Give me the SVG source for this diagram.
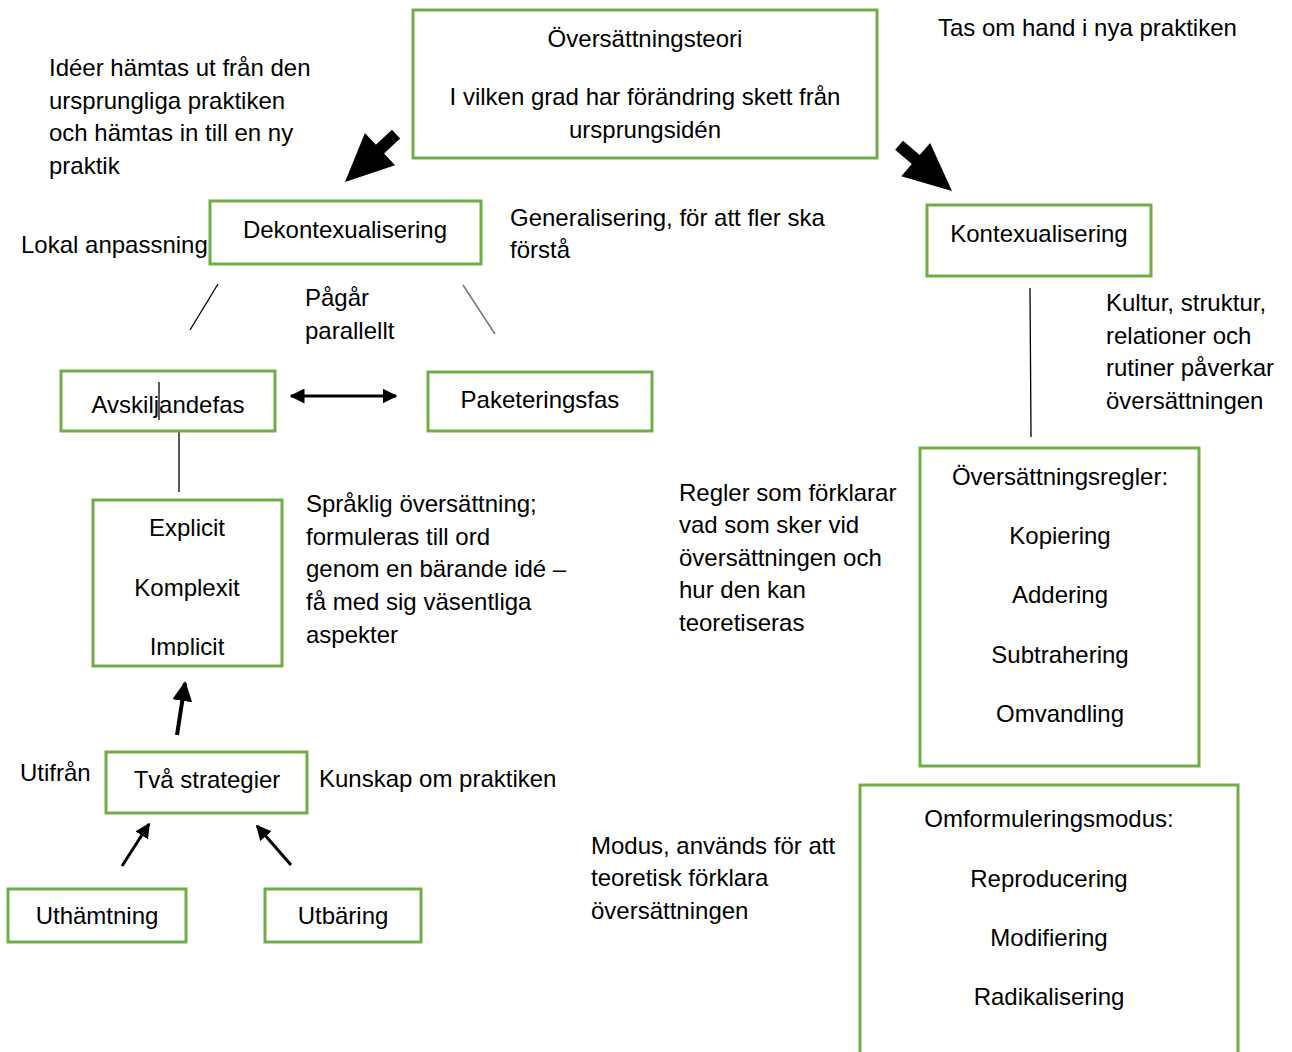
<svg xmlns="http://www.w3.org/2000/svg" width="1292" height="1052" viewBox="0 0 1292 1052">
<style>
text{font-family:"Liberation Sans",Arial,sans-serif;font-size:24px;fill:#000}
.c{text-anchor:middle}
.box{fill:#fff;stroke:#70AD47;stroke-width:3}
.ln{stroke:#000;stroke-width:1.3;fill:none}
</style>
<defs>
<marker id="ah" viewBox="0 0 10 10" refX="9" refY="5" markerWidth="5" markerHeight="5" orient="auto-start-reverse" markerUnits="strokeWidth">
<path d="M0,0 L10,5 L0,10 z" fill="#000"/>
</marker>
<clipPath id="clipImp"><rect x="90" y="495" width="200" height="161"/></clipPath>
</defs>
<rect width="1292" height="1052" fill="#fff"/>

<g id="connectors">
<line class="ln" x1="218" y1="284" x2="190" y2="330"/>
<line x1="463" y1="285" x2="495" y2="334" stroke="#777" stroke-width="1.5"/>
<line class="ln" x1="179" y1="431" x2="179" y2="492"/>
<line class="ln" x1="1030" y1="288" x2="1031" y2="437"/>
<line x1="291" y1="396" x2="396" y2="396" stroke="#000" stroke-width="3" marker-start="url(#ah)" marker-end="url(#ah)"/>
<line x1="177" y1="735" x2="185" y2="683" stroke="#000" stroke-width="4" marker-end="url(#ah)"/>
<line x1="122" y1="866" x2="149" y2="824" stroke="#000" stroke-width="3" marker-end="url(#ah)"/>
<line x1="291" y1="865" x2="257" y2="826" stroke="#000" stroke-width="3" marker-end="url(#ah)"/>
<polygon transform="translate(345,182) rotate(136.8)" points="0,0 -48,-22 -48,-6 -70,-6 -70,6 -48,6 -48,22" fill="#000"/>
<polygon transform="translate(952,191) rotate(40.9)" points="0,0 -48,-22 -48,-6 -70,-6 -70,6 -48,6 -48,22" fill="#000"/>
</g>

<g id="n-teori">
<rect class="box" x="413" y="10" width="464" height="148"/>
<text class="c" x="645" y="47">Översättningsteori</text>
<text class="c" x="645" y="105">I vilken grad har förändring skett från</text>
<text class="c" x="645" y="138">ursprungsidén</text>
</g>
<g id="n-dekon">
<rect class="box" x="210" y="201" width="271" height="63"/>
<text class="c" x="345" y="238">Dekontexualisering</text>
</g>
<g id="n-kon">
<rect class="box" x="927" y="205" width="224" height="71"/>
<text class="c" x="1039" y="242">Kontexualisering</text>
</g>
<g id="n-avsk">
<rect class="box" x="61" y="371" width="214" height="60"/>
<text class="c" x="168" y="413">Avskiljandefas</text>
<line class="ln" x1="159" y1="382" x2="159" y2="420"/>
</g>
<g id="n-pak">
<rect class="box" x="428" y="372" width="224" height="59"/>
<text class="c" x="540" y="408">Paketeringsfas</text>
</g>
<g id="n-komplex">
<rect class="box" x="93" y="500" width="189" height="166"/>
<text class="c" x="187" y="536">Explicit</text>
<text class="c" x="187" y="596">Komplexit</text>
<text class="c" x="187" y="655" clip-path="url(#clipImp)">Implicit</text>
</g>
<g id="n-tva">
<rect class="box" x="106" y="752" width="201" height="61"/>
<text class="c" x="207" y="788">Två strategier</text>
</g>
<g id="n-uth">
<rect class="box" x="8" y="889" width="178" height="53"/>
<text class="c" x="97" y="924">Uthämtning</text>
</g>
<g id="n-utb">
<rect class="box" x="265" y="889" width="156" height="53"/>
<text class="c" x="343" y="924">Utbäring</text>
</g>
<g id="n-regler">
<rect class="box" x="920" y="448" width="279" height="318"/>
<text class="c" x="1060" y="485">Översättningsregler:</text>
<text class="c" x="1060" y="544">Kopiering</text>
<text class="c" x="1060" y="603">Addering</text>
<text class="c" x="1060" y="663">Subtrahering</text>
<text class="c" x="1060" y="722">Omvandling</text>
</g>
<g id="n-modus">
<rect class="box" x="860" y="785" width="378" height="290"/>
<text class="c" x="1049" y="827">Omformuleringsmodus:</text>
<text class="c" x="1049" y="887">Reproducering</text>
<text class="c" x="1049" y="946">Modifiering</text>
<text class="c" x="1049" y="1005">Radikalisering</text>
</g>

<g id="labels">
<text x="938" y="36">Tas om hand i nya praktiken</text>
<text x="49" y="76">Idéer hämtas ut från den</text>
<text x="49" y="109">ursprungliga praktiken</text>
<text x="49" y="141">och hämtas in till en ny</text>
<text x="49" y="174">praktik</text>
<text x="21" y="253">Lokal anpassning</text>
<text x="510" y="226">Generalisering, för att fler ska</text>
<text x="510" y="258">förstå</text>
<text x="1106" y="311">Kultur, struktur,</text>
<text x="1106" y="344">relationer och</text>
<text x="1106" y="376">rutiner påverkar</text>
<text x="1106" y="409">översättningen</text>
<text x="305" y="306">Pågår</text>
<text x="305" y="339">parallellt</text>
<text x="306" y="512">Språklig översättning;</text>
<text x="306" y="545">formuleras till ord</text>
<text x="306" y="577">genom en bärande idé –</text>
<text x="306" y="610">få med sig väsentliga</text>
<text x="306" y="643">aspekter</text>
<text x="679" y="501">Regler som förklarar</text>
<text x="679" y="533">vad som sker vid</text>
<text x="679" y="566">översättningen och</text>
<text x="679" y="598">hur den kan</text>
<text x="679" y="631">teoretiseras</text>
<text x="20" y="781">Utifrån</text>
<text x="319" y="787">Kunskap om praktiken</text>
<text x="591" y="854">Modus, används för att</text>
<text x="591" y="886">teoretisk förklara</text>
<text x="591" y="919">översättningen</text>
</g>
</svg>
